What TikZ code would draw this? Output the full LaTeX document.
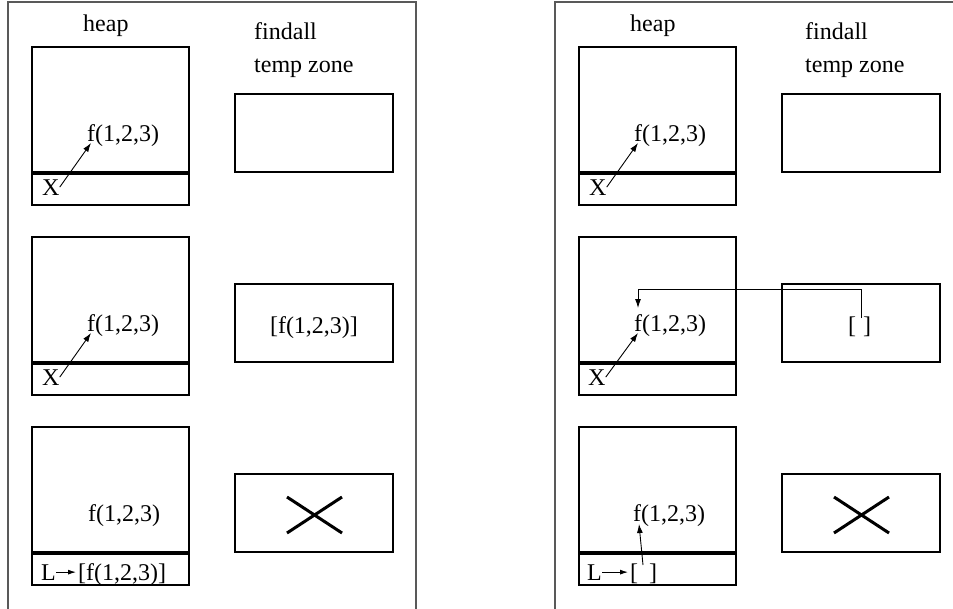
\documentclass[tikz,border=0pt]{standalone}
\usepackage{fontspec}
\setmainfont{Liberation Serif}
\usetikzlibrary{arrows.meta,calc}
\begin{document}
\begin{tikzpicture}[x=1pt,y=-1pt,
  frame/.style={draw=black!65,line width=1.6pt},
  boxline/.style={draw=black,line width=1.1pt},
  sepline/.style={draw=black,line width=4pt},
  lbl/.style={font=\fontsize{24}{28}\selectfont,inner sep=0pt,anchor=base west},
  conn/.style={draw=black,line width=0.9pt,-{Latex[length=9pt,width=6pt]}},
  crossline/.style={draw=black,line width=3pt}]
\path[use as bounding box] (0,0) rectangle (953,608);
\clip (0,0) rectangle (953,608);
% ---------------- left panel ----------------
\draw[frame] (8,2) rectangle (416,640);
\node[lbl] (heapL) at (83,31) {heap};
\node[lbl] (findL) at (254,39) {findall};
\node[lbl] (tempL) at (254,72) {temp zone};
% heap boxes
\draw[boxline] (32,47) rectangle (189,205);
\draw[sepline] (32,173) -- (189,173);
\draw[boxline] (32,237) rectangle (189,395);
\draw[sepline] (32,363) -- (189,363);
\draw[boxline] (32,427) rectangle (189,585);
\draw[sepline] (32,553) -- (189,553);
% temp boxes
\draw[boxline] (235,94) rectangle (393,172);
\draw[boxline] (235,284) rectangle (393,362);
\draw[boxline] (235,474) rectangle (393,552);
\draw[crossline] (287,497) -- (342,533);
\draw[crossline] (287,533) -- (342,497);
% row 1
\node[lbl] (LF1) at (87,141) {f(1,2,3)};
\node[lbl] (LX1) at (42,195) {X};
\draw[conn] (LX1.east) -- ($(LF1.base west)+(4,2)$);
% row 2
\node[lbl] (LF2) at (87,331) {f(1,2,3)};
\node[lbl] (LX2) at (42,385) {X};
\draw[conn] (LX2.east) -- ($(LF2.base west)+(4,2)$);
\node[lbl,anchor=base] (LT2) at (314,333) {[f(1,2,3)]};
% row 3
\node[lbl] (LF3) at (88,521) {f(1,2,3)};
\node[lbl] (LL3) at (41,580) {L};
\node[lbl] (LB3) at (78,580) {[f(1,2,3)]};
\draw[conn,line width=0.9pt,-{Latex[length=8pt,width=5pt]},shorten >=2pt] (LL3.east) -- (LL3.east -| LB3.west);
% ---------------- right panel ----------------
\begin{scope}[xshift=547pt]
\draw[frame] (8,2) rectangle (460,640);
\node[lbl] (heapR) at (83,31) {heap};
\node[lbl] (findR) at (258,39) {findall};
\node[lbl] (tempR) at (258,72) {temp zone};
\draw[boxline] (32,47) rectangle (189,205);
\draw[sepline] (32,173) -- (189,173);
\draw[boxline] (32,237) rectangle (189,395);
\draw[sepline] (32,363) -- (189,363);
\draw[boxline] (32,427) rectangle (189,585);
\draw[sepline] (32,553) -- (189,553);
\draw[boxline] (235,94) rectangle (393,172);
\draw[boxline] (235,284) rectangle (393,362);
\draw[boxline] (235,474) rectangle (393,552);
\draw[crossline] (287,497) -- (342,533);
\draw[crossline] (287,533) -- (342,497);
% row 1
\node[lbl] (RF1) at (87,141) {f(1,2,3)};
\node[lbl] (RX1) at (42,195) {X};
\draw[conn] (RX1.east) -- ($(RF1.base west)+(4,2)$);
% row 2
\node[lbl] (RF2) at (87,331) {f(1,2,3)};
\node[lbl] (RX2) at (41,385) {X};
\draw[conn] (RX2.east) -- ($(RF2.base west)+(4,2)$);
\node[lbl] (RT2) at (301,333) {[\hspace{7pt}]};
\coordinate (rs) at ($(RT2.base west)+(13,-15)$);
\coordinate (rtip) at ($(RF2.base west)+(4,-23)$);
\draw[conn] (rs) -- ++(0,-29) -| (rtip);
% row 3
\node[lbl] (RF3) at (86,521) {f(1,2,3)};
\node[lbl] (RL3) at (40,580) {L};
\node[lbl] (RB3) at (83,580) {[\hspace{11pt}]};
\draw[conn,line width=0.9pt,-{Latex[length=8pt,width=5pt]},shorten >=2pt] (RL3.east) -- (RL3.east -| RB3.west);
\coordinate (rs3) at ($(RB3.base west)+(13,-15)$);
\draw[conn] (rs3) -- ($(RF3.base west)+(6,3)$);
\end{scope}
\end{tikzpicture}
\end{document}
